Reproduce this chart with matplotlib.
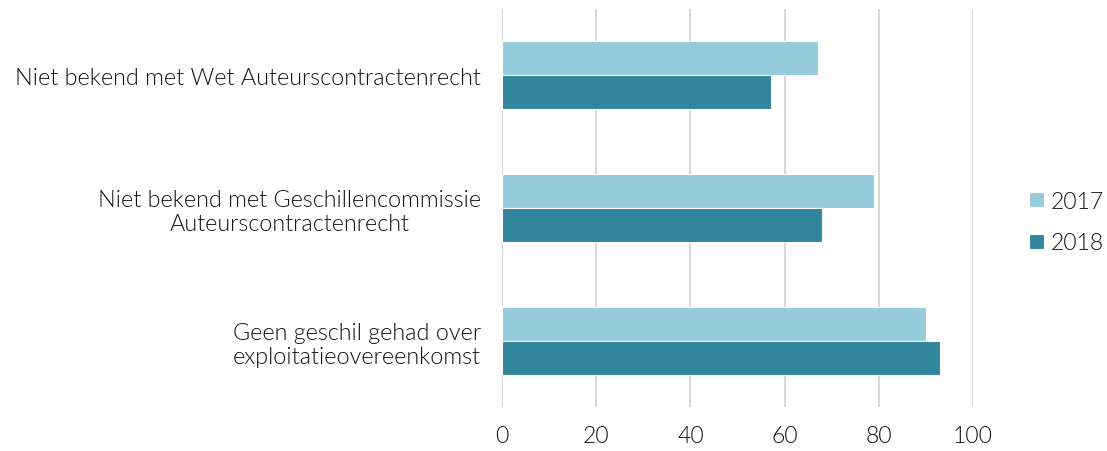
# Bekendheid met Wet en Geschillencommissie Auteurscontractenrecht

import numpy as np
import matplotlib.pyplot as plt

plt.rcParams['font.family'] = ['Lato', 'DejaVu Sans']
plt.rcParams['font.weight'] = 300

# Data
categories = ["Niet bekend met Wet Auteurscontractenrecht",
              "Niet bekend met Geschillencommissie\nAuteurscontractenrecht",
              "Geen geschil gehad over\nexploitatieovereenkomst"]
values_2017 = [67, 79, 90]
values_2018 = [57, 68, 93]
series_labels = ["2017", "2018"]
xticks = [0, 20, 40, 60, 80, 100]

fig = plt.figure(figsize=(11.07, 4.52), dpi=100)
ax = fig.add_axes([0.4535, 0.097, 0.4255, 0.881])

y = np.arange(len(categories))
h = 0.256
ax.barh(y - h / 2, values_2017, height=h, color="#95CCDC", edgecolor="white",
        linewidth=0.8, label=series_labels[0], zorder=3)
ax.barh(y + h / 2, values_2018, height=h, color="#31859C", edgecolor="white",
        linewidth=0.8, label=series_labels[1], zorder=3)

ax.set_ylim(2.5, -0.5)
ax.set_xlim(0, 100)
ax.set_xticks(xticks)
ax.set_yticks(y)
ax.set_yticklabels(categories, multialignment="center", fontsize=16.8, color="#111111")
ax.tick_params(axis="x", labelsize=16.5, colors="#111111", length=0, pad=13)
ax.tick_params(axis="y", length=0, pad=15)
ax.xaxis.grid(True, color="#D9D9D9", linewidth=1.5, zorder=0)
for s in ax.spines.values():
    s.set_visible(False)

ax.legend(loc="center left", bbox_to_anchor=(1.118, 0.465), frameon=False,
          borderpad=0, borderaxespad=0,
          fontsize=16.5, handlelength=0.65, handleheight=0.65, handletextpad=0.3,
          labelspacing=0.9, labelcolor="#111111")

fig.savefig("out.png", dpi=100)
